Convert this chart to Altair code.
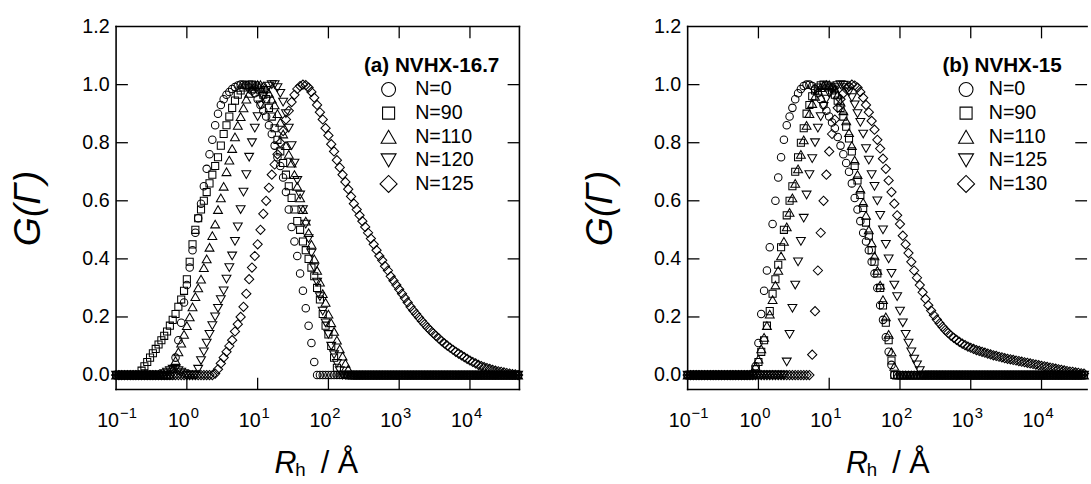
import altair as alt
import pandas as pd

# ---- shared abscissa grid: log10(Rh / Å) ----
U = [-1.00,-0.96,-0.92,-0.88,-0.84,-0.80,-0.76,-0.72,-0.68,-0.64,
     -0.60,-0.56,-0.52,-0.48,-0.44,-0.40,-0.36,-0.32,-0.28,-0.24,
     -0.20,-0.16,-0.12,-0.08,-0.04,0.00,0.04,0.08,0.12,0.16,
     0.20,0.24,0.28,0.32,0.36,0.40,0.44,0.48,0.52,0.56,
     0.60,0.64,0.68,0.72,0.76,0.80,0.84,0.88,0.92,0.96,
     1.00,1.04,1.08,1.12,1.16,1.20,1.24,1.28,1.32,1.36,
     1.40,1.44,1.48,1.52,1.56,1.60,1.64,1.68,1.72,1.76,
     1.80,1.84,1.88,1.92,1.96,2.00,2.04,2.08,2.12,2.16,
     2.20,2.24,2.28,2.32,2.36,2.40,2.44,2.48,2.52,2.56,
     2.60,2.64,2.68,2.72,2.76,2.80,2.84,2.88,2.92,2.96,
     3.00,3.04,3.08,3.12,3.16,3.20,3.24,3.28,3.32,3.36,
     3.40,3.44,3.48,3.52,3.56,3.60,3.64,3.68,3.72,3.76,
     3.80,3.84,3.88,3.92,3.96,4.00,4.04,4.08,4.12,4.16,
     4.20,4.24,4.28,4.32,4.36,4.40,4.44,4.48,4.52,4.56,
     4.60,4.64,4.68]

# ---- panel (a) NVHX-16.7 : leading zero count + values ----
A_NAMES = ["N=0", "N=90", "N=110", "N=120", "N=125"]
A0_LEAD = 20
A0 = [0.02,0.06,0.12,0.18,0.25,0.31,0.37,0.43,0.49,0.54,0.59,0.65,0.71,0.76,0.81,0.86,
      0.90,0.93,0.95,0.965,0.975,0.985,0.992,0.997,1.0,1.0,0.998,0.99,0.98,0.97,0.95,0.93,
      0.91,0.89,0.86,0.83,0.79,0.75,0.72,0.68,0.63,0.57,0.51,0.46,0.41,0.35,0.29,0.23,0.17,
      0.11,0.045]
A90_LEAD = 9
A90 = [0.015,0.03,0.045,0.06,0.075,0.09,0.105,0.12,0.135,0.15,0.17,0.19,0.21,0.235,0.26,0.29,
       0.33,0.39,0.45,0.50,0.54,0.57,0.60,0.63,0.66,0.69,0.72,0.75,0.79,0.83,0.86,0.89,0.92,
       0.945,0.965,0.98,0.99,0.997,1.0,1.0,0.998,0.99,0.98,0.965,0.95,0.92,0.89,0.85,0.81,
       0.77,0.73,0.69,0.65,0.61,0.57,0.53,0.50,0.46,0.43,0.40,0.37,0.34,0.30,0.26,0.21,0.17,
       0.14,0.10,0.06,0.025]
A110_LEAD = 20
A110 = [0.02,0.05,0.08,0.11,0.14,0.17,0.20,0.235,0.27,0.30,0.33,0.37,0.40,0.44,0.48,0.52,
        0.57,0.61,0.65,0.70,0.74,0.78,0.82,0.86,0.89,0.92,0.95,0.97,0.985,0.995,1.0,1.0,
        0.995,0.985,0.97,0.95,0.93,0.90,0.87,0.83,0.79,0.76,0.73,0.69,0.65,0.61,0.57,0.53,
        0.49,0.45,0.40,0.36,0.32,0.28,0.25,0.21,0.18,0.15,0.12,0.09,0.065,0.04,0.02]
A120_LEAD = 17
A120 = [0.005,0.01,0.015,0.02,0.02,0.015,0.01,0.005,0.0,0.0,0.0,0.0,0.02,0.05,0.08,0.11,
        0.14,0.17,0.20,0.23,0.26,0.29,0.33,0.37,0.41,0.46,0.51,0.57,0.63,0.69,0.75,0.80,
        0.85,0.89,0.93,0.96,0.98,0.995,1.0,1.0,0.99,0.97,0.94,0.90,0.85,0.79,0.73,0.67,
        0.62,0.57,0.52,0.47,0.42,0.37,0.32,0.27,0.22,0.18,0.14,0.10,0.07,0.04,0.015]
A125_LEAD = 35
A125 = [0.005,0.02,0.04,0.06,0.08,0.10,0.12,0.15,0.175,0.20,0.235,0.28,0.33,0.37,0.41,0.45,
        0.50,0.555,0.60,0.645,0.69,0.725,0.76,0.80,0.84,0.88,0.91,0.94,0.965,0.985,0.995,
        1.0,0.998,0.99,0.975,0.955,0.93,0.905,0.88,0.85,0.825,0.795,0.77,0.74,0.715,0.69,
        0.665,0.64,0.615,0.59,0.57,0.55,0.53,0.51,0.49,0.47,0.45,0.43,0.41,0.395,0.375,0.36,
        0.34,0.325,0.31,0.295,0.28,0.265,0.25,0.235,0.222,0.21,0.198,0.186,0.175,0.164,0.154,
        0.144,0.135,0.126,0.117,0.109,0.101,0.094,0.087,0.08,0.074,0.068,0.062,0.056,0.05,
        0.045,0.04,0.035,0.031,0.027,0.024,0.021,0.018,0.015,0.013,0.011,0.009,0.007,0.005,
        0.003,0.002,0.0]

# ---- panel (b) NVHX-15 ----
B_NAMES = ["N=0", "N=90", "N=110", "N=125", "N=130"]
B0_LEAD = 24
B0 = [0.03,0.11,0.21,0.29,0.36,0.44,0.52,0.60,0.68,0.75,0.81,0.86,0.89,0.92,0.95,0.97,
      0.985,0.995,1.0,1.0,0.995,0.985,0.97,0.95,0.93,0.91,0.89,0.87,0.85,0.82,0.79,0.76,
      0.73,0.70,0.66,0.61,0.57,0.53,0.49,0.46,0.43,0.39,0.35,0.30,0.24,0.19,0.13,0.08,0.035]
B90_LEAD = 24
B90 = [0.02,0.045,0.08,0.12,0.17,0.22,0.28,0.33,0.38,0.44,0.50,0.55,0.60,0.65,0.70,0.75,
       0.80,0.85,0.90,0.93,0.96,0.98,0.99,0.998,1.0,0.998,0.99,0.98,0.965,0.945,0.92,0.89,
       0.855,0.815,0.77,0.72,0.67,0.62,0.575,0.525,0.48,0.43,0.39,0.35,0.30,0.24,0.18,0.12,
       0.05]
B110_LEAD = 23
B110 = [0.01,0.03,0.055,0.09,0.13,0.17,0.21,0.26,0.31,0.36,0.41,0.46,0.51,0.56,0.61,0.66,
        0.71,0.76,0.81,0.86,0.90,0.935,0.96,0.98,0.99,0.997,1.0,1.0,0.995,0.985,0.965,0.94,
        0.91,0.875,0.835,0.79,0.74,0.69,0.64,0.595,0.55,0.50,0.455,0.41,0.36,0.31,0.26,0.20,
        0.14,0.08,0.03]
B125_LEAD = 35
B125 = [0.045,0.14,0.23,0.31,0.39,0.46,0.54,0.62,0.69,0.745,0.80,0.85,0.89,0.925,0.95,0.97,
        0.982,0.99,0.997,1.0,0.998,0.99,0.975,0.955,0.93,0.90,0.87,0.83,0.78,0.74,0.69,0.65,
        0.60,0.55,0.50,0.45,0.40,0.35,0.31,0.27,0.22,0.18,0.14,0.11,0.08,0.055,0.035,0.015]
B130_LEAD = 44
B130 = [0.07,0.22,0.36,0.49,0.60,0.69,0.77,0.83,0.88,0.92,0.95,0.97,0.985,0.995,1.0,0.997,
        0.99,0.975,0.955,0.93,0.905,0.875,0.845,0.81,0.78,0.745,0.71,0.67,0.63,0.59,0.55,
        0.52,0.48,0.45,0.42,0.39,0.36,0.335,0.31,0.285,0.262,0.24,0.222,0.206,0.191,0.178,
        0.166,0.155,0.145,0.136,0.128,0.121,0.114,0.108,0.103,0.098,0.094,0.09,0.086,0.083,
        0.08,0.077,0.074,0.071,0.068,0.066,0.063,0.061,0.058,0.056,0.054,0.052,0.05,0.048,
        0.046,0.044,0.042,0.04,0.038,0.036,0.034,0.032,0.03,0.028,0.026,0.024,0.022,0.02,
        0.018,0.016,0.014,0.012,0.011,0.009,0.008,0.006,0.005]

SHAPES = ["circle", "square", "triangle-up", "triangle-down", "diamond"]
DATA_SIZE = {"circle": 58, "square": 52, "triangle-up": 82, "triangle-down": 82, "diamond": 88}
LEG_SIZE = {"circle": 200, "square": 150, "triangle-up": 230, "triangle-down": 230, "diamond": 300}

DECADES = [0.1, 1, 10, 100, 1000, 10000]
EXPONENTS = ["\u22121", "0", "1", "2", "3", "4"]
YTICKS = [0.0, 0.2, 0.4, 0.6, 0.8, 1.0]

H = 369
W_A = 410
W_B = 406
XMAX_A = 50000
XMAX_B = 44000
UMAX_B = 4.60


def full(lead, vals):
    row = [0.0] * lead + list(vals)
    return (row + [0.0] * len(U))[:len(U)]


def frame(names, leads, series, umax=None):
    rows = []
    for name, lead, vals in zip(names, leads, series):
        for u, g in zip(U, full(lead, vals)):
            if umax is not None and u > umax + 1e-9:
                continue
            rows.append({"series": name, "Rh": 10 ** u, "G": g})
    return pd.DataFrame(rows)


ONE = pd.DataFrame({"k": [0]})


def panel(df, names, title, W, xmax, leg, right_frame):
    xs = alt.Scale(type="log", domain=[0.1, xmax], nice=False)
    ys = alt.Scale(domain=[-0.05, 1.2], nice=False, zero=False)
    yaxis = alt.Axis(values=[0, 0.2, 0.4, 0.6, 0.8, 1.0, 1.2], format=".1f",
                     labelFontSize=20, labelFont="Liberation Sans", labelColor="black",
                     ticks=False, tickSize=0, domain=False, grid=False, labelPadding=7,
                     title="G(\u0393)", titleFont="Liberation Sans", titleFontSize=38,
                     titleFontStyle="italic", titleFontWeight="normal", titleColor="black",
                     titlePadding=35)
    X = alt.X("Rh:Q", scale=xs, axis=None)
    layers = []
    for name, shp in zip(names, SHAPES):
        layers.append(
            alt.Chart(df[df["series"] == name]).mark_point(
                shape=shp, size=DATA_SIZE[shp], filled=False, color="black",
                strokeWidth=1.05, opacity=1
            ).encode(x=X, y=alt.Y("G:Q", scale=ys, axis=yaxis))
        )
    # frame
    fr = dict(color="black", strokeWidth=1.6, strokeCap="square")
    layers.append(alt.Chart(ONE).mark_rule(**fr).encode(
        x=alt.value(0), y=alt.value(0), y2=alt.value(H)))
    layers.append(alt.Chart(ONE).mark_rule(**fr).encode(
        x=alt.value(0), x2=alt.value(W), y=alt.value(0)))
    layers.append(alt.Chart(ONE).mark_rule(**fr).encode(
        x=alt.value(0), x2=alt.value(W), y=alt.value(H)))
    if right_frame:
        layers.append(alt.Chart(ONE).mark_rule(**fr).encode(
            x=alt.value(W), y=alt.value(0), y2=alt.value(H)))
    # inward ticks
    dec = pd.DataFrame({"Rh": DECADES[1:]})
    layers.append(alt.Chart(dec).mark_rule(color="black", strokeWidth=1.3).encode(
        x=X, y=alt.value(H - 12), y2=alt.value(H)))
    layers.append(alt.Chart(dec).mark_rule(color="black", strokeWidth=1.3).encode(
        x=X, y=alt.value(0), y2=alt.value(12)))
    yt = pd.DataFrame({"G": YTICKS})
    layers.append(alt.Chart(yt).mark_rule(color="black", strokeWidth=1.3).encode(
        y=alt.Y("G:Q", scale=ys, axis=yaxis), x=alt.value(0), x2=alt.value(12)))
    layers.append(alt.Chart(yt).mark_rule(color="black", strokeWidth=1.3).encode(
        y=alt.Y("G:Q", scale=ys, axis=yaxis), x=alt.value(W - 12), x2=alt.value(W)))
    # x tick labels 10^n
    lab = pd.DataFrame({"Rh": DECADES, "base": ["10"] * len(DECADES), "exp": EXPONENTS})
    layers.append(alt.Chart(lab).mark_text(
        align="right", baseline="alphabetic", dx=3, fontSize=20,
        font="Liberation Sans", color="black").encode(
        x=X, y=alt.value(H + 38), text="base:N"))
    layers.append(alt.Chart(lab).mark_text(
        align="left", baseline="alphabetic", dx=4, fontSize=15,
        font="Liberation Sans", color="black").encode(
        x=X, y=alt.value(H + 29), text="exp:N"))
    # x axis title  R_h / Å
    parts = [("R", 161, 454, 31, "italic"), ("h", 182, 457, 19, "normal"),
             ("/ \u00c5", 208, 454, 31, "normal")]
    for txt, px, py, fs, st in parts:
        layers.append(alt.Chart(pd.DataFrame({"t": [txt]})).mark_text(
            align="left", baseline="alphabetic", fontSize=fs, fontStyle=st,
            font="Liberation Sans", color="black").encode(
            x=alt.value(px), y=alt.value(py), text="t:N"))
    # legend
    tx, sx, lx = leg
    layers.append(alt.Chart(pd.DataFrame({"t": [title]})).mark_text(
        align="left", baseline="alphabetic", fontSize=21, fontWeight="bold",
        font="Liberation Sans", color="black").encode(
        x=alt.value(tx), y=alt.value(46), text="t:N"))
    for i, (name, shp) in enumerate(zip(names, SHAPES)):
        d = pd.DataFrame({"t": [name]})
        layers.append(alt.Chart(d).mark_point(
            shape=shp, size=LEG_SIZE[shp], filled=False, color="black",
            strokeWidth=1.1, opacity=1).encode(
            x=alt.value(sx), y=alt.value(64 + 24 * i)))
        layers.append(alt.Chart(d).mark_text(
            align="left", baseline="middle", fontSize=20,
            font="Liberation Sans", color="black").encode(
            x=alt.value(lx), y=alt.value(64 + 24 * i), text="t:N"))
    return alt.layer(*layers).properties(width=W, height=H)


df_a = frame(A_NAMES, [A0_LEAD, A90_LEAD, A110_LEAD, A120_LEAD, A125_LEAD],
             [A0, A90, A110, A120, A125])
df_b = frame(B_NAMES, [B0_LEAD, B90_LEAD, B110_LEAD, B125_LEAD, B130_LEAD],
             [B0, B90, B110, B125, B130], umax=UMAX_B)

left = panel(df_a, A_NAMES, "(a) NVHX-16.7", W_A, XMAX_A, (252, 277, 304), True)
right = panel(df_b, B_NAMES, "(b) NVHX-15", W_B, XMAX_B, (259, 283, 306), False)

chart = alt.hconcat(left, right, spacing=57).properties(
    padding={"left": 10, "top": 13, "right": 0, "bottom": 0},
    background="white",
).configure_view(stroke=None)

chart.save("out.html", embed_options={"renderer": "svg", "actions": False})
